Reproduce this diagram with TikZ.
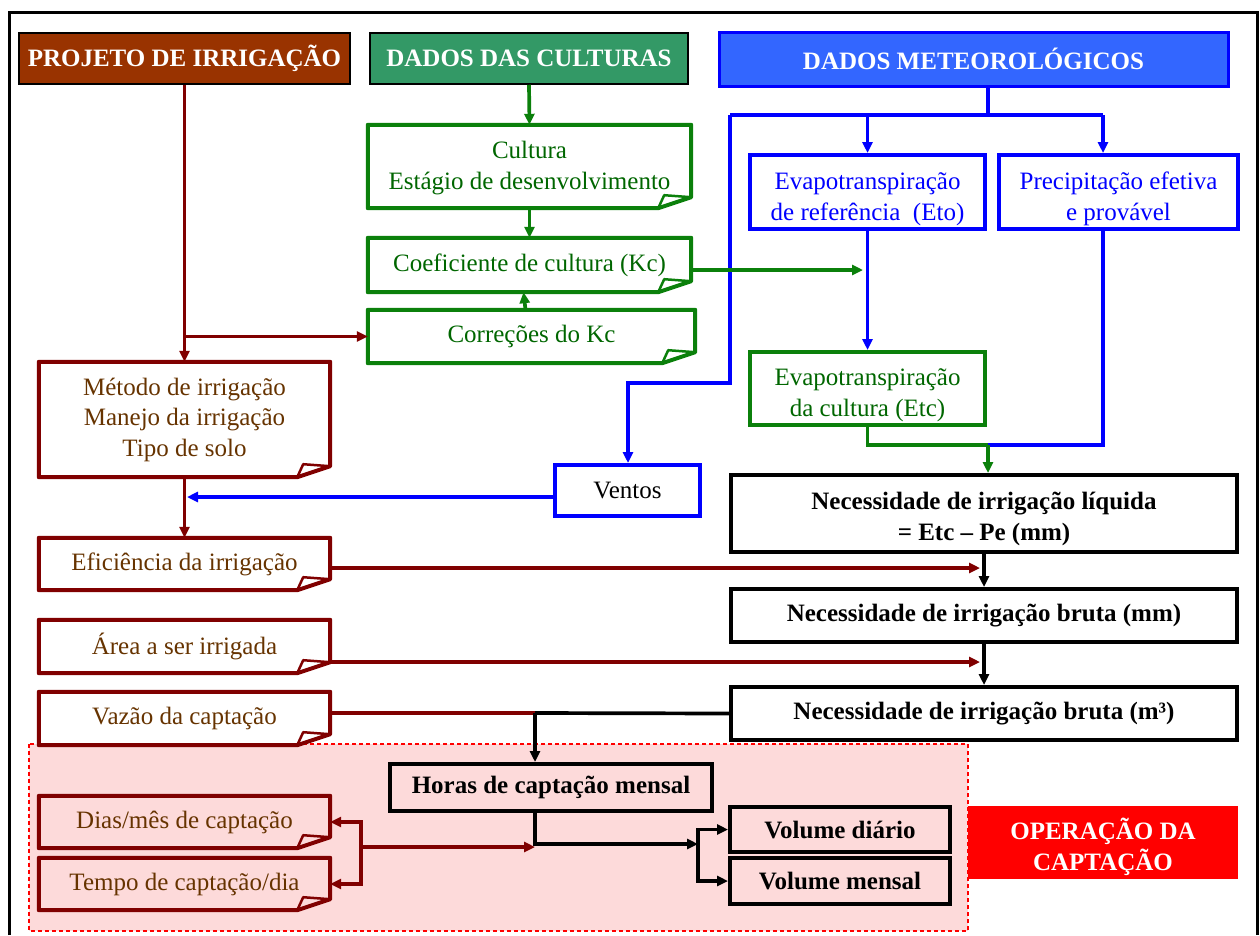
\documentclass[tikz,border=0pt]{standalone}
\usepackage{fontspec}
\setmainfont{Liberation Serif}
\usetikzlibrary{arrows.meta}
\definecolor{hdrbrown}{HTML}{993300}
\definecolor{brn}{HTML}{800000}
\definecolor{brntxt}{HTML}{663300}
\definecolor{hdrgreen}{HTML}{339966}
\definecolor{grn}{HTML}{0B800B}
\definecolor{grntxt}{HTML}{006600}
\definecolor{blu}{HTML}{0000FF}
\definecolor{hdrblue}{HTML}{3366FF}
\definecolor{pinkbg}{HTML}{FDDADA}
\definecolor{redbox}{HTML}{FF0000}
\newcommand\upsp[1]{\rule{0pt}{#1}}
\newcommand\docframe[2]{%
 \draw[#2,line width=4pt,line join=round] (#1.north west) -- (#1.north east) -- ([yshift=11pt]#1.south east) -- ([xshift=-33pt]#1.south east) -- (#1.south west) -- cycle;
 \draw[#2,line width=2.5pt,line join=round] ([xshift=-33pt]#1.south east) -- ([xshift=-27pt,yshift=13pt]#1.south east) -- ([yshift=11pt]#1.south east);}
\begin{document}
\begin{tikzpicture}[x=1pt,y=-1pt,
  base/.style={inner sep=0pt, align=center, font=\fontsize{25}{30.5}\selectfont},
  bbase/.style={inner sep=0pt, align=center, font=\fontsize{25}{30.5}\selectfont\bfseries},
  sz/.style 2 args={minimum width=#1pt, minimum height=#2pt},
  hdr/.style={bbase, text=white},
  docb/.style={base, text=brntxt},
  docg/.style={base, text=grntxt},
  bluebox/.style={base, draw=blu, line width=4pt, text=blu},
  blkbox/.style={bbase, draw=black, line width=4pt},
  con/.style={line width=3.7pt},
  arr/.style={con, -{Triangle[length=11pt,width=10pt]}}]
\useasboundingbox (0,0) rectangle (1260,935);
% capture region
\draw[fill=pinkbg, draw=redbox, line width=1.2pt, dash pattern=on 4pt off 3pt] (29,744) rectangle (968,931);
% outer frame
\draw[line width=3pt] (9,935) -- (9,12) -- (1257,12) -- (1257,935);
% headers
\node[hdr, sz={331}{51}, fill=hdrbrown, draw=black, line width=1.5pt] (proj) at (184.5,58.5) {PROJETO DE IRRIGAÇÃO};
\node[hdr, sz={318}{51}, fill=hdrgreen, draw=black, line width=1.5pt] (chdr) at (529,58.5) {DADOS DAS CULTURAS};
\node[hdr, sz={509}{54}, fill=hdrblue, draw=blu, line width=3pt] (meteo) at (973.5,59) {DADOS METEOROLÓGICOS};
% green document boxes
\node[docg, sz={323}{83}] (cultura) at (529.5,166.5) {\upsp{20pt}Cultura\\Estágio de desenvolvimento};
\node[docg, sz={323}{54}] (kc) at (529.5,265) {Coeficiente de cultura (Kc)};
\node[docg, sz={327}{53}] (corr) at (531.5,336.5) {Correções do Kc};
\docframe{cultura}{grn}
\docframe{kc}{grn}
\docframe{corr}{grn}
% blue boxes
\node[bluebox, sz={235}{74}] (eto) at (867.5,192) {\upsp{31pt}Evapotranspiração\\de referência~ (Eto)};
\node[bluebox, sz={239}{74}] (prec) at (1118.5,192) {\upsp{31pt}Precipitação efetiva\\e provável};
\node[base, draw=grn, line width=4pt, text=grntxt, sz={235}{73}] (etc) at (867.5,388.5) {\upsp{30pt}Evapotranspiração\\da cultura (Etc)};
\node[bluebox, sz={145}{51}, text=black] (ventos) at (627.5,490.5) {Ventos};
% black boxes
\node[blkbox, sz={506}{77}] (liq) at (984,513.5) {\upsp{28.5pt}Necessidade de irrigação líquida\\= Etc – Pe (mm)};
\node[blkbox, sz={506}{53}] (brmm) at (984,615.5) {Necessidade de irrigação bruta (mm)};
\node[blkbox, sz={506}{53}] (brm3) at (984,713.5) {Necessidade de irrigação bruta (m³)};
\node[blkbox, sz={322}{47}] (horas) at (551,787.5) {Horas de captação mensal};
\node[blkbox, sz={220}{45}] (vdia) at (840,829.5) {Volume diário};
\node[blkbox, sz={220}{46}] (vmen) at (840,881) {Volume mensal};
% brown document boxes
\node[docb, sz={291}{115}] (metodo) at (184.5,419.5) {Método de irrigação\\Manejo da irrigação\\Tipo de solo};
\node[docb, sz={291}{52}] (efic) at (184.5,564) {Eficiência da irrigação};
\node[docb, sz={291}{53}] (area) at (184.5,646.5) {Área a ser irrigada};
\node[docb, sz={291}{53}] (vazao) at (184.5,718.5) {Vazão da captação};
\node[docb, sz={291}{52}] (dias) at (184.5,822) {Dias/mês de captação};
\node[docb, sz={291}{52}] (tempo) at (184.5,884) {Tempo de captação/dia};
\docframe{metodo}{brn}
\docframe{efic}{brn}
\docframe{area}{brn}
\docframe{vazao}{brn}
\docframe{dias}{brn}
\docframe{tempo}{brn}
% red label
\node[hdr, sz={270}{73}, fill=redbox] (op) at (1103,842.5) {\upsp{30pt}OPERAÇÃO DA\\CAPTAÇÃO};
% coordinates
\coordinate (mj) at (988,115);
\coordinate (lj) at (730,115);
\coordinate (pj) at (1103,115);
\coordinate (vk) at (628,383);
\coordinate (vw) at (187,497);
\coordinate (ej) at (988,445);
\coordinate (kcend) at (863,270);
\coordinate (effin) at (980,568);
\coordinate (arfin) at (980,662);
\coordinate (vj) at (535,713);
\coordinate (hj) at (535,844);
\coordinate (vsplit) at (698,844);
\coordinate (bj) at (361,847);
% blue connectors
\draw[con,blu] (meteo.south -| mj) -- (mj);
\draw[con,blu] (lj) -- (pj);
\draw[arr,blu] (lj -| eto.north) -- (eto.north);
\draw[arr,blu] (pj) -- (prec.north -| pj);
\draw[arr,blu] (lj) |- (vk) -- (vk |- ventos.north);
\draw[arr,blu] (eto.south) -- (etc.north);
\draw[con,blu] (prec.south -| pj) |- (ej);
\draw[arr,blu] (ventos.west |- vw) -- (vw);
% green connectors
\draw[arr,grn] (chdr.south) -- (cultura.north);
\draw[arr,grn] (cultura.south) -- (kc.north);
\draw[arr,grn] ([xshift=-6pt]corr.north) -- ([xshift=-6pt]kc.south);
\draw[arr,grn] (kc.east |- kcend) -- (kcend);
\draw[con,grn] (etc.south) |- (ej);
\draw[arr,grn] (ej) -- (ej |- liq.north);
% brown connectors
\draw[arr,brn] (proj.south) -- (metodo.north);
\draw[arr,brn] (proj.south |- corr.west) -- (corr.west);
\draw[arr,brn] (metodo.south) -- (efic.north);
\draw[arr,brn] (efic.east |- effin) -- (effin);
\draw[arr,brn] (area.east |- arfin) -- (arfin);
\draw[con,brn] (vazao.east |- vj) -- (vj);
\draw[arr,brn] (bj) -- (bj -| hj);
\draw[arr,brn] (bj) |- (dias.east);
\draw[arr,brn] (bj) |- (tempo.east);
% black connectors
\draw[arr] (liq.south) -- (brmm.north);
\draw[arr] (brmm.south) -- (brm3.north);
\draw[con] (brm3.west) -- (vj);
\draw[arr] (vj) -- (vj |- horas.north);
\draw[arr] (horas.south -| hj) -- (hj) -- (vsplit);
\draw[arr] (vsplit) |- (vdia.west);
\draw[arr] (vsplit) |- (vmen.west);
\end{tikzpicture}
\end{document}
